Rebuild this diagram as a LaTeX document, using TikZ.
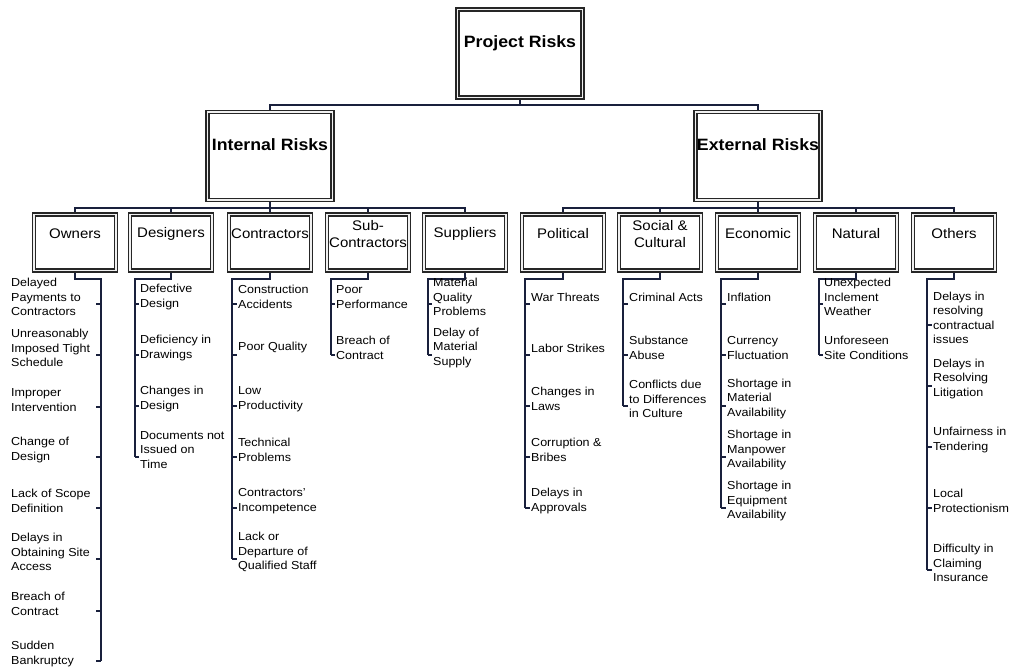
\documentclass[tikz,border=0pt]{standalone}
\usepackage{fontspec}
\setmainfont[FakeStretch=1.08]{Liberation Sans}
\usetikzlibrary{backgrounds}
\definecolor{lc}{RGB}{25,32,60}
\begin{document}
\begin{tikzpicture}[x=1pt,y=-1pt,
  box/.style={draw=black!85, line width=1.5pt, double=black!6, double distance=1.7pt, fill=white, inner sep=0pt},
  catbox/.style={box, minimum width=82pt, minimum height=56pt},
  topbox/.style={box, minimum width=125pt, minimum height=88pt},
  bigtitle/.style={font=\fontsize{16.4}{19}\selectfont\bfseries, inner sep=0pt},
  cattitle/.style={font=\fontsize{13.9}{17.5}\selectfont, align=center, inner sep=0pt},
  item/.style={font=\fontsize{11.6}{14.5}\selectfont, align=left, inner sep=0pt, anchor=west},
  conn/.style={draw=lc, line width=1.15pt}]
\useasboundingbox (0,0) rectangle (1010,671);

% top level
\node[topbox] (pr) at (520,53.5) {};
\node[bigtitle] (prt) at (520,43) {Project Risks};
\node[topbox] (ir) at (270,156) {};
\node[bigtitle] (irt) at (270,145) {Internal Risks};
\node[topbox] (er) at (758,156) {};
\node[bigtitle] (ert) at (758,145) {External Risks};

% categories
\foreach \nm/\cx/\ct in {own/75/Owners, des/171/Designers, con/270/Contractors,
  sub/368/{Sub-\\Contractors}, sup/465/Suppliers, pol/563/Political,
  soc/660/{Social \&\\Cultural}, eco/758/Economic, nat/856/Natural, oth/954/Others}{
  \node[catbox] (\nm) at (\cx,242.5) {};
  \node[cattitle] (\nm-t) at (\cx,234) {\ct};
}

% connectors
\begin{scope}[on background layer]
\coordinate (b1) at (520,105);
\draw[conn] (pr.south) -- (b1);
\draw[conn] (ir.north) |- (b1) -| (er.north);
\coordinate (b2) at (270,208);
\draw[conn] (ir.south) -- (con.north);
\draw[conn] (own.north) |- (b2) -| (sup.north);
\draw[conn] (des.north) -- (des.north |- b2);
\draw[conn] (sub.north) -- (sub.north |- b2);
\coordinate (b3) at (758,208);
\draw[conn] (er.south) -- (eco.north);
\draw[conn] (pol.north) |- (b3) -| (oth.north);
\draw[conn] (soc.north) -- (soc.north |- b3);
\draw[conn] (nat.north) -- (nat.north |- b3);
\foreach \nm/\lx/\ly in {own/101/661, des/135/457, con/232/559, sub/331/355,
  sup/428/355, pol/525/508, soc/623/406, eco/721/508, nat/819/355, oth/927/570}{
  \coordinate (\nm-top) at (\lx,279);
  \draw[conn] (\nm.south) |- (\nm-top) -- (\lx,\ly);
}
\end{scope}

% Owners (text left of line)
\foreach \ty/\txt [count=\j] in {304/{Delayed\\Payments to\\Contractors},
  355/{Unreasonably\\Imposed Tight\\Schedule}, 407/{Improper\\Intervention},
  457/{Change of\\Design}, 508/{Lack of Scope\\Definition},
  559/{Delays in\\Obtaining Site\\Access}, 611/{Breach of\\Contract},
  661/{Sudden\\Bankruptcy}}{
  \node[item] (own\j) at (11,\ty-7) {\txt};
  \draw[conn] (96,\ty) -- (101,\ty);
}

% Designers
\foreach \ty/\txt [count=\j] in {304/{Defective\\Design}, 355/{Deficiency in\\Drawings},
  406/{Changes in\\Design}, 457/{Documents not\\Issued on\\Time}}{
  \node[item] (des\j) at (140,\ty-7) {\txt};
  \draw[conn] (135,\ty) -- (139,\ty);
}

% Contractors
\foreach \ty/\txt [count=\j] in {304/{Construction\\Accidents}, 355/{Poor Quality},
  406/{Low\\Productivity}, 457/{Technical\\Problems},
  508/{Contractors'\\Incompetence}, 559/{Lack or\\Departure of\\Qualified Staff}}{
  \node[item] (con\j) at (238,\ty-7) {\txt};
  \draw[conn] (232,\ty) -- (237,\ty);
}

% Sub-Contractors
\foreach \ty/\txt [count=\j] in {304/{Poor\\Performance}, 355/{Breach of\\Contract}}{
  \node[item] (sub\j) at (336,\ty-7) {\txt};
  \draw[conn] (331,\ty) -- (335,\ty);
}

% Suppliers
\foreach \ty/\txt [count=\j] in {304/{Material\\Quality\\Problems}, 355/{Delay of\\Material\\Supply}}{
  \node[item] (sup\j) at (433,\ty-7) {\txt};
  \draw[conn] (428,\ty) -- (432,\ty);
}

% Political
\foreach \ty/\txt [count=\j] in {304/{War Threats}, 355/{Labor Strikes},
  406/{Changes in\\Laws}, 457/{Corruption \&\\Bribes}, 508/{Delays in\\Approvals}}{
  \node[item] (pol\j) at (531,\ty-7) {\txt};
  \draw[conn] (525,\ty) -- (530,\ty);
}

% Social & Cultural
\foreach \ty/\txt [count=\j] in {304/{Criminal Acts}, 355/{Substance\\Abuse},
  406/{Conflicts due\\to Differences\\in Culture}}{
  \node[item] (soc\j) at (629,\ty-7) {\txt};
  \draw[conn] (623,\ty) -- (628,\ty);
}

% Economic
\foreach \ty/\txt [count=\j] in {304/{Inflation}, 355/{Currency\\Fluctuation},
  406/{Shortage in\\Material\\Availability}, 457/{Shortage in\\Manpower\\Availability},
  508/{Shortage in\\Equipment\\Availability}}{
  \node[item] (eco\j) at (727,\ty-7) {\txt};
  \draw[conn] (721,\ty) -- (726,\ty);
}

% Natural
\foreach \ty/\txt [count=\j] in {304/{Unexpected\\Inclement\\Weather}, 355/{Unforeseen\\Site Conditions}}{
  \node[item] (nat\j) at (824,\ty-7) {\txt};
  \draw[conn] (819,\ty) -- (823,\ty);
}

% Others
\foreach \ty/\txt [count=\j] in {325/{Delays in\\resolving\\contractual\\issues},
  386/{Delays in\\Resolving\\Litigation}, 447/{Unfairness in\\Tendering},
  508/{Local\\Protectionism}, 570/{Difficulty in\\Claiming\\Insurance}}{
  \node[item] (oth\j) at (933,\ty-7) {\txt};
  \draw[conn] (927,\ty) -- (932,\ty);
}
\end{tikzpicture}
\end{document}
